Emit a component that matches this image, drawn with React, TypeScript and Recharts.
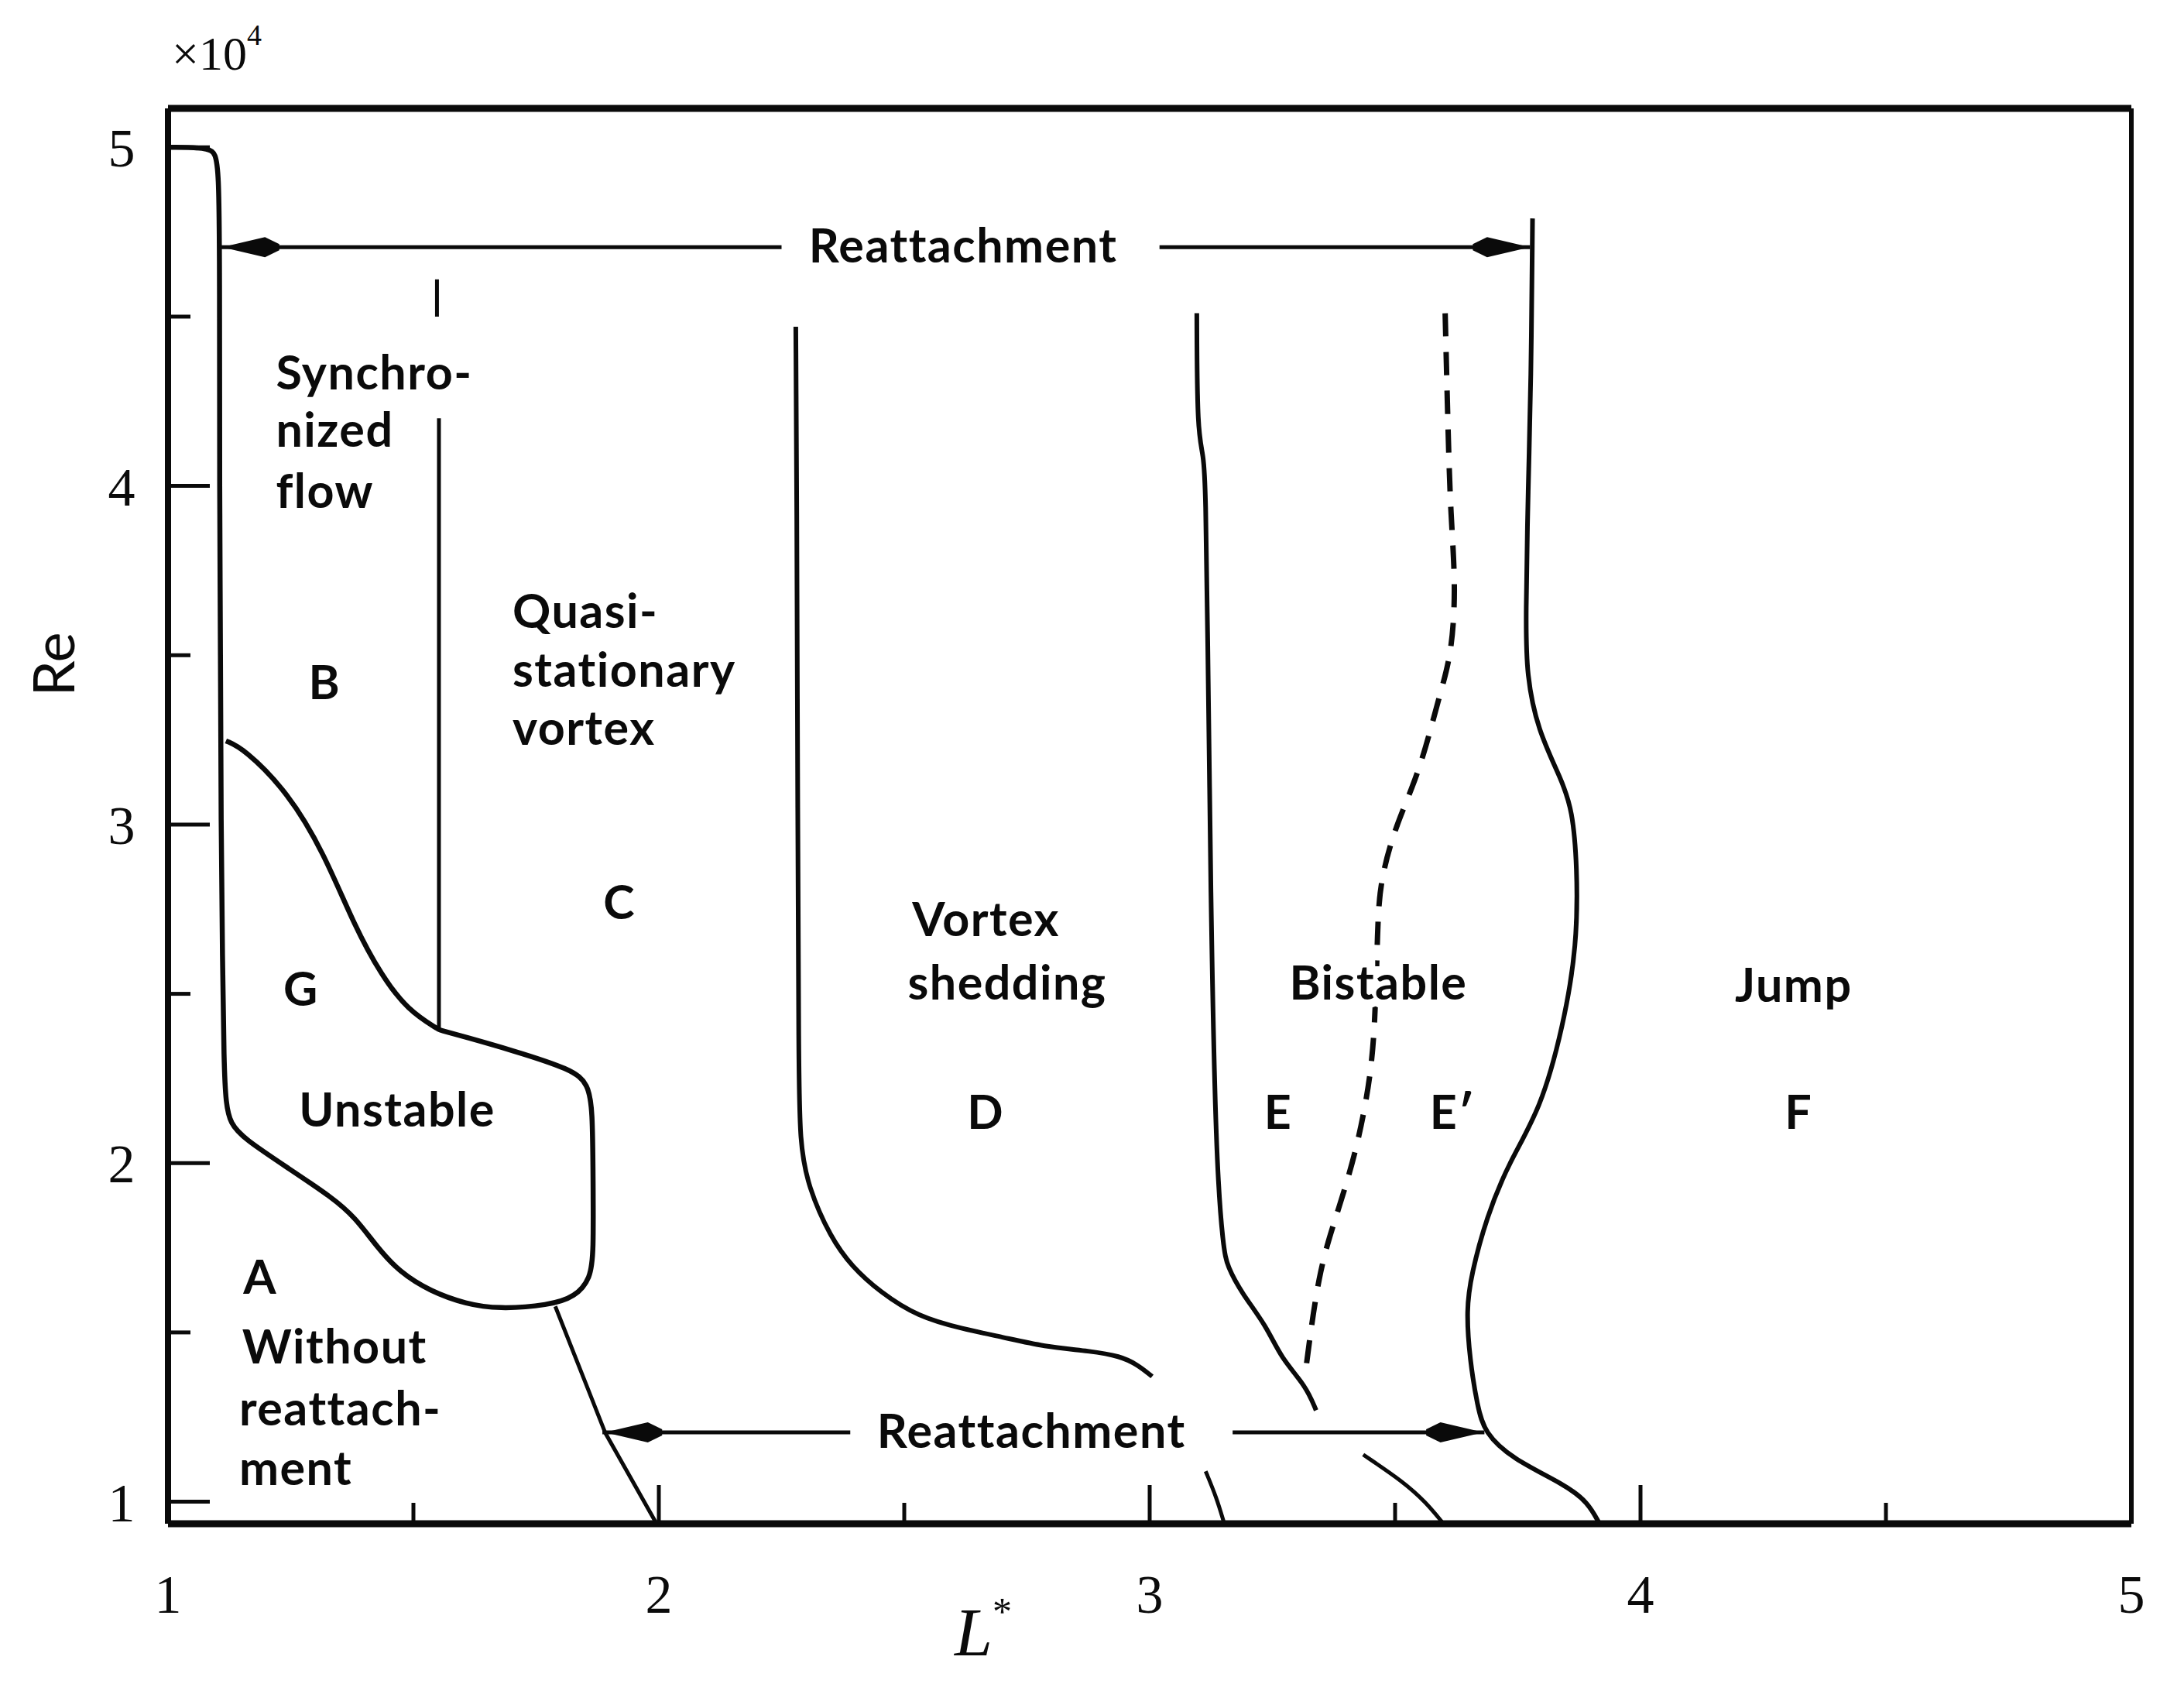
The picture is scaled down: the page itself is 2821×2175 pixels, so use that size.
import React from 'react';
import { ComposedChart, Line, Scatter, XAxis, YAxis, ReferenceLine } from 'recharts';

type P = { x: number; y: number };

// ---------- axes ----------
const xTicks = [1, 1.5, 2, 2.5, 3, 3.5, 4, 4.5, 5];
const yTicks = [1, 1.5, 2, 2.5, 3, 3.5, 4, 4.5, 5];
const xDomain = [1, 5];
const yDomain = [0.935, 5.115];

// ---------- boundary curves (L*, Re x 1e-4) ----------
// inner wall + unstable region outline + B/G boundary
const syncWall: P[] = [
  { x: 1.0, y: 5.0 }, { x: 1.09, y: 5.0 }, { x: 1.105, y: 4.97 }, { x: 1.105, y: 4.5 },
  { x: 1.105, y: 4.0 }, { x: 1.107, y: 3.5 }, { x: 1.108, y: 3.0 }, { x: 1.111, y: 2.6 },
  { x: 1.114, y: 2.29 }, { x: 1.118, y: 2.175 }, { x: 1.127, y: 2.117 }, { x: 1.154, y: 2.073 },
  { x: 1.245, y: 1.985 }, { x: 1.335, y: 1.898 }, { x: 1.381, y: 1.84 }, { x: 1.426, y: 1.752 },
  { x: 1.471, y: 1.679 }, { x: 1.535, y: 1.621 }, { x: 1.607, y: 1.584 }, { x: 1.673, y: 1.569 },
  { x: 1.776, y: 1.58 }, { x: 1.83, y: 1.605 }, { x: 1.861, y: 1.66 }, { x: 1.867, y: 1.736 },
  { x: 1.866, y: 1.95 }, { x: 1.865, y: 2.16 }, { x: 1.856, y: 2.233 }, { x: 1.824, y: 2.277 },
  { x: 1.697, y: 2.335 }, { x: 1.607, y: 2.372 }, { x: 1.552, y: 2.394 }, { x: 1.552, y: 2.394 },
  { x: 1.489, y: 2.451 }, { x: 1.435, y: 2.554 }, { x: 1.38, y: 2.7 }, { x: 1.317, y: 2.918 },
  { x: 1.245, y: 3.094 }, { x: 1.155, y: 3.224 }, { x: 1.118, y: 3.247 },
];
const diagLine: P[] = [
  { x: 1.789, y: 1.577 }, { x: 1.891, y: 1.203 }, { x: 1.995, y: 0.936 },
];
const bcLine: P[] = [{ x: 1.552, y: 4.2 }, { x: 1.552, y: 2.394 }];
const bcTick: P[] = [{ x: 1.548, y: 4.61 }, { x: 1.548, y: 4.5 }];
const cdLine: P[] = [
  { x: 2.279, y: 4.47 }, { x: 2.281, y: 4.0 }, { x: 2.283, y: 3.0 }, { x: 2.285, y: 2.3 },
  { x: 2.287, y: 2.06 }, { x: 2.304, y: 1.93 }, { x: 2.35, y: 1.78 }, { x: 2.393, y: 1.695 },
  { x: 2.45, y: 1.62 }, { x: 2.528, y: 1.546 }, { x: 2.62, y: 1.51 }, { x: 2.701, y: 1.486 },
  { x: 2.784, y: 1.458 }, { x: 2.88, y: 1.445 }, { x: 2.94, y: 1.43 }, { x: 2.975, y: 1.405 },
  { x: 3.005, y: 1.37 },
];
const deLine: P[] = [
  { x: 3.096, y: 4.51 }, { x: 3.097, y: 4.154 }, { x: 3.11, y: 4.095 }, { x: 3.114, y: 3.98 },
  { x: 3.118, y: 3.6 }, { x: 3.124, y: 2.8 }, { x: 3.135, y: 2.0 }, { x: 3.15, y: 1.75 },
  { x: 3.158, y: 1.695 }, { x: 3.188, y: 1.615 }, { x: 3.238, y: 1.519 }, { x: 3.268, y: 1.423 },
  { x: 3.318, y: 1.343 }, { x: 3.339, y: 1.27 },
];
const eePrimeDashed: P[] = [
  { x: 3.602, y: 4.51 }, { x: 3.608, y: 4.154 }, { x: 3.613, y: 3.92 }, { x: 3.624, y: 3.7 },
  { x: 3.615, y: 3.5 }, { x: 3.59, y: 3.38 }, { x: 3.55, y: 3.155 }, { x: 3.5, y: 2.994 },
  { x: 3.47, y: 2.834 }, { x: 3.464, y: 2.705 }, { x: 3.459, y: 2.353 }, { x: 3.439, y: 2.161 },
  { x: 3.414, y: 2.0 }, { x: 3.379, y: 1.839 }, { x: 3.344, y: 1.679 }, { x: 3.318, y: 1.39 },
];
const efLine: P[] = [
  { x: 3.78, y: 4.79 }, { x: 3.777, y: 4.3 }, { x: 3.771, y: 4.0 }, { x: 3.766, y: 3.6 },
  { x: 3.768, y: 3.443 }, { x: 3.79, y: 3.28 }, { x: 3.84, y: 3.13 }, { x: 3.861, y: 3.042 },
  { x: 3.871, y: 2.882 }, { x: 3.871, y: 2.641 }, { x: 3.842, y: 2.401 }, { x: 3.797, y: 2.161 },
  { x: 3.731, y: 2.0 }, { x: 3.686, y: 1.839 }, { x: 3.655, y: 1.67 }, { x: 3.645, y: 1.567 },
  { x: 3.652, y: 1.42 }, { x: 3.668, y: 1.28 }, { x: 3.682, y: 1.205 }, { x: 3.737, y: 1.128 },
  { x: 3.847, y: 1.05 }, { x: 3.893, y: 0.998 }, { x: 3.916, y: 0.936 },
];
const stubA: P[] = [{ x: 3.114, y: 1.09 }, { x: 3.136, y: 1.013 }, { x: 3.151, y: 0.94 }];
const stubB: P[] = [
  { x: 3.435, y: 1.139 }, { x: 3.517, y: 1.059 }, { x: 3.563, y: 0.998 }, { x: 3.598, y: 0.936 },
];

// ---------- reattachment arrows ----------
const topArrowLeft: P[] = [{ x: 1.105, y: 4.705 }, { x: 2.25, y: 4.705 }];
const topArrowRight: P[] = [{ x: 3.02, y: 4.705 }, { x: 3.775, y: 4.705 }];
const botArrowLeft: P[] = [{ x: 1.885, y: 1.205 }, { x: 2.39, y: 1.205 }];
const botArrowRight: P[] = [{ x: 3.169, y: 1.205 }, { x: 3.682, y: 1.205 }];
const arrowHeads = [
  { x: 1.11, y: 4.705, dir: -1 },
  { x: 3.775, y: 4.705, dir: 1 },
  { x: 1.89, y: 1.205, dir: -1 },
  { x: 3.68, y: 1.205, dir: 1 },
];

// ---------- region labels ----------
const labelsStart = [
  { x: 1.22, y: 4.284, t: 'Synchro-' },
  { x: 1.22, y: 4.115, t: 'nized' },
  { x: 1.22, y: 3.934, t: 'flow' },
  { x: 1.702, y: 3.58, t: 'Quasi-' },
  { x: 1.702, y: 3.407, t: 'stationary' },
  { x: 1.702, y: 3.235, t: 'vortex' },
  { x: 1.151, y: 1.409, t: 'Without' },
  { x: 1.145, y: 1.226, t: 'reattach-' },
  { x: 1.145, y: 1.05, t: 'ment' },
  { x: 2.516, y: 2.671, t: 'Vortex' },
  { x: 2.507, y: 2.483, t: 'shedding' },
];
const labelsMid = [
  { x: 1.319, y: 3.37, t: 'B' },
  { x: 1.92, y: 2.72, t: 'C' },
  { x: 1.271, y: 2.465, t: 'G' },
  { x: 1.467, y: 2.108, t: 'Unstable' },
  { x: 1.188, y: 1.615, t: 'A' },
  { x: 2.666, y: 2.102, t: 'D' },
  { x: 3.262, y: 2.102, t: 'E' },
  { x: 3.617, y: 2.102, t: 'E\u2032' },
  { x: 4.312, y: 2.477, t: 'Jump' },
  { x: 4.322, y: 2.102, t: 'F' },
  { x: 2.62, y: 4.659, t: 'Reattachment' },
  { x: 2.759, y: 1.158, t: 'Reattachment' },
];
const labelsHalo = [{ x: 3.466, y: 2.483, t: 'Bistable' }];

const SANS = 'Lato, "Open Sans", sans-serif';
const SERIF = '"Liberation Serif", "DejaVu Serif", serif';
const INK = '#0a0a0a';

const XTick = (props: any) => {
  const { x, y, payload } = props;
  const v = payload.value as number;
  const major = Number.isInteger(v);
  return (
    <g>
      <line x1={x} y1={y} x2={x} y2={y - (major ? 50 : 27)} stroke={INK} strokeWidth={5} />
      {major && (
        <text x={x} y={y + 115} textAnchor="middle" fontFamily={SERIF} fontSize={70} fill={INK}>
          {v}
        </text>
      )}
    </g>
  );
};

const YTick = (props: any) => {
  const { x, y, payload } = props;
  const v = payload.value as number;
  const major = Number.isInteger(v);
  return (
    <g>
      <line x1={x} y1={y} x2={x + (major ? 54 : 29)} y2={y} stroke={INK} strokeWidth={5} />
      {major && (
        <text x={x - 60} y={y + 25} textAnchor="middle" fontFamily={SERIF} fontSize={70} fill={INK}>
          {v}
        </text>
      )}
    </g>
  );
};

const ArrowHead = (props: any) => {
  const { cx, cy, payload } = props;
  const d = payload.dir as number;
  const L = 74;
  const hw = 13;
  const pts = [
    [cx, cy],
    [cx - d * L * 0.75, cy - hw],
    [cx - d * L, cy - 4],
    [cx - d * L, cy + 4],
    [cx - d * L * 0.75, cy + hw],
  ]
    .map((p) => p.join(','))
    .join(' ');
  return <polygon points={pts} fill={INK} />;
};

const makeLabel = (anchor: 'start' | 'middle', halo = false) => (props: any) => {
  const { cx, cy, payload } = props;
  return (
    <text
      x={cx}
      y={cy}
      textAnchor={anchor}
      fontFamily={SANS}
      fontSize={61}
      fontWeight={700}
      fill={INK}
      stroke={halo ? '#fff' : 'none'}
      strokeWidth={halo ? 22 : 0}
      paintOrder="stroke"
      style={{ letterSpacing: '1.5px' }}
    >
      {payload.t}
    </text>
  );
};

const lineProps = {
  dataKey: 'y',
  stroke: INK,
  strokeWidth: 6,
  dot: false,
  activeDot: false,
  isAnimationActive: false,
  legendType: 'none' as const,
  fill: 'none',
};

export default function App() {
  return (
    <div style={{ background: '#fff', width: 2805, height: 2160 }}>
      <ComposedChart
        width={2805}
        height={2160}
        margin={{ top: 132, right: 60, bottom: 100, left: 109 }}
      >
        <XAxis
          dataKey="x"
          type="number"
          domain={xDomain}
          ticks={xTicks}
          interval={0}
          allowDataOverflow
          tickSize={0}
          tickMargin={0}
          tickLine={false}
          tick={<XTick />}
          height={100}
          axisLine={{ stroke: INK, strokeWidth: 9 }}
          label={(p: any) => (
            <text x={1262} y={2130} fontFamily={SERIF} fontStyle="italic" fontSize={88} fill={INK} textAnchor="middle">
              L<tspan fontSize={50} dy={-40} fontStyle="normal">*</tspan>
            </text>
          )}
        />
        <YAxis
          dataKey="y"
          type="number"
          domain={yDomain}
          ticks={yTicks}
          interval={0}
          allowDataOverflow
          tickSize={0}
          tickMargin={0}
          tickLine={false}
          tick={<YTick />}
          width={100}
          axisLine={{ stroke: INK, strokeWidth: 8 }}
          label={(p: any) => (
            <g>
              <text
                x={0}
                y={0}
                transform="translate(88, 850) rotate(-90)"
                textAnchor="middle"
                fontFamily={SANS}
                fontSize={74}
                fill={INK}
              >
                Re
              </text>
              <text x={214} y={82} fontFamily={SERIF} fontSize={62} fill={INK}>
                ×10<tspan fontSize={38} dy={-32}>4</tspan>
              </text>
            </g>
          )}
        />
        <ReferenceLine y={5.115} stroke={INK} strokeWidth={9} ifOverflow="visible" />
        <ReferenceLine x={5} stroke={INK} strokeWidth={6} ifOverflow="visible" />

        <Line {...lineProps} data={syncWall} type="basis" strokeWidth={6.5} />
        <Line {...lineProps} data={diagLine} type="linear" strokeWidth={5} />
        <Line {...lineProps} data={bcLine} type="linear" strokeWidth={5} />
        <Line {...lineProps} data={bcTick} type="linear" strokeWidth={5} />
        <Line {...lineProps} data={cdLine} type="basis" />
        <Line {...lineProps} data={deLine} type="basis" />
        <Line {...lineProps} data={eePrimeDashed} type="basis" strokeWidth={7} strokeDasharray="30 20" />
        <Line {...lineProps} data={efLine} type="basis" />
        <Line {...lineProps} data={stubA} type="basis" strokeWidth={5} />
        <Line {...lineProps} data={stubB} type="basis" strokeWidth={5} />
        <Line {...lineProps} data={topArrowLeft} type="linear" strokeWidth={5} />
        <Line {...lineProps} data={topArrowRight} type="linear" strokeWidth={5} />
        <Line {...lineProps} data={botArrowLeft} type="linear" strokeWidth={5} />
        <Line {...lineProps} data={botArrowRight} type="linear" strokeWidth={5} />

        <Scatter data={arrowHeads} dataKey="y" shape={<ArrowHead />} isAnimationActive={false} legendType="none" />
        <Scatter data={labelsHalo} dataKey="y" shape={makeLabel('middle', true)} isAnimationActive={false} legendType="none" />
        <Scatter data={labelsStart} dataKey="y" shape={makeLabel('start')} isAnimationActive={false} legendType="none" />
        <Scatter data={labelsMid} dataKey="y" shape={makeLabel('middle')} isAnimationActive={false} legendType="none" />
      </ComposedChart>
    </div>
  );
}
